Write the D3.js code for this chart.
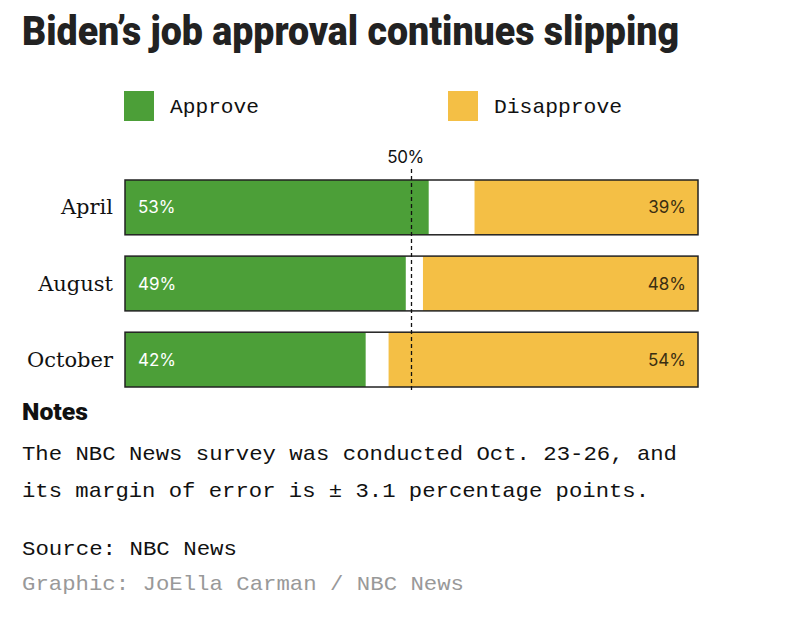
<!DOCTYPE html>
<html>
<head>
<meta charset="utf-8">
<script src="https://cdn.jsdelivr.net/npm/d3@7"></script>
<style>
  body { margin: 0; background: #fff; }
  svg { display: block; }
</style>
</head>
<body>
<div id="chart"></div>
<script>
// data
let months = ['April', 'August', 'October'];
let approve = [53, 49, 42];
let disapprove = [39, 48, 54];
let seriesNames = ['Approve', 'Disapprove'];
let refLine = 50;

let colors = {approve: '#4c9f38', disapprove: '#f4bf45'};

let width = 808, height = 620;

let svg = d3.select('#chart').append('svg')
    .attr('width', width)
    .attr('height', height);

// title
svg.append('text')
    .attr('x', 22)
    .attr('y', 45)
    .attr('textLength', 657)
    .attr('lengthAdjust', 'spacingAndGlyphs')
    .style('font-family', 'Roboto, "Liberation Sans", sans-serif')
    .style('font-weight', 900)
    .style('font-size', '41px')
    .style('fill', '#222')
    .text('Biden\u2019s job approval continues slipping');

// legend
let legendX = [124, 448];
let legendLen = [89, 128];
let legend = svg.selectAll('.legend')
    .data(seriesNames)
    .enter().append('g')
    .attr('class', 'legend')
    .attr('transform', (d, i) => `translate(${legendX[i]}, 91)`);

legend.append('rect')
    .attr('width', 30)
    .attr('height', 30)
    .attr('fill', (d, i) => i === 0 ? colors.approve : colors.disapprove);

legend.append('text')
    .attr('x', 46)
    .attr('y', 22)
    .attr('textLength', (d, i) => legendLen[i])
    .attr('lengthAdjust', 'spacingAndGlyphs')
    .style('font-family', '"Liberation Mono", "DejaVu Sans Mono", monospace')
    .style('font-size', '21px')
    .style('fill', '#111')
    .text(d => d);

// scales
let x = d3.scaleLinear().domain([0, 100]).range([125, 698]);
let y = d3.scaleBand().domain(months).range([180, 387]).paddingInner(0.28).paddingOuter(0);

let rows = svg.selectAll('.row')
    .data(months)
    .enter().append('g')
    .attr('class', 'row');

// white base
rows.append('rect')
    .attr('x', x(0))
    .attr('y', d => y(d))
    .attr('width', x(100) - x(0))
    .attr('height', y.bandwidth())
    .attr('fill', '#fff');

rows.append('rect')
    .attr('x', x(0))
    .attr('y', d => y(d))
    .attr('width', (d, i) => x(approve[i]) - x(0))
    .attr('height', y.bandwidth())
    .attr('fill', colors.approve);

rows.append('rect')
    .attr('x', (d, i) => x(100 - disapprove[i]))
    .attr('y', d => y(d))
    .attr('width', (d, i) => x(100) - x(100 - disapprove[i]))
    .attr('height', y.bandwidth())
    .attr('fill', colors.disapprove);

// border
rows.append('rect')
    .attr('x', x(0))
    .attr('y', d => y(d))
    .attr('width', x(100) - x(0))
    .attr('height', y.bandwidth())
    .attr('fill', 'none')
    .attr('stroke', '#222')
    .attr('stroke-width', 1.5);

// month labels
rows.append('text')
    .attr('x', 113)
    .attr('y', d => y(d) + y.bandwidth() / 2 + 7)
    .attr('text-anchor', 'end')
    .style('font-family', '"DejaVu Serif", "Liberation Serif", serif')
    .style('font-size', '21px')
    .style('fill', '#111')
    .text(d => d);

// value labels
rows.append('text')
    .attr('x', x(0) + 13)
    .attr('y', d => y(d) + y.bandwidth() / 2 + 6)
    .style('font-family', 'Inter, "Noto Sans", sans-serif')
    .style('font-size', '17px')
    .style('fill', '#fff')
    .text((d, i) => approve[i] + '%');

rows.append('text')
    .attr('x', x(100) - 12)
    .attr('y', d => y(d) + y.bandwidth() / 2 + 6)
    .attr('text-anchor', 'end')
    .style('font-family', 'Inter, "Noto Sans", sans-serif')
    .style('font-size', '17px')
    .style('fill', '#3a2e12')
    .text((d, i) => disapprove[i] + '%');

// 50% reference line
svg.append('line')
    .attr('x1', x(refLine))
    .attr('x2', x(refLine))
    .attr('y1', 169)
    .attr('y2', 391)
    .attr('stroke', '#111')
    .attr('stroke-width', 1.3)
    .attr('stroke-dasharray', '4,3');

svg.append('text')
    .attr('x', x(refLine) - 6)
    .attr('y', 163)
    .attr('text-anchor', 'middle')
    .style('font-family', 'Inter, "Noto Sans", sans-serif')
    .style('font-size', '17px')
    .style('letter-spacing', '-0.5px')
    .style('fill', '#111')
    .text(refLine + '%');

// notes
svg.append('text')
    .attr('x', 22)
    .attr('y', 420)
    .attr('textLength', 66)
    .attr('lengthAdjust', 'spacingAndGlyphs')
    .style('font-family', 'Roboto, "Liberation Sans", sans-serif')
    .style('font-weight', 900)
    .style('font-size', '24px')
    .style('fill', '#111')
    .text('Notes');

let noteLines = [
    {text: 'The NBC News survey was conducted Oct. 23-26, and', y: 460, len: 655, color: '#111'},
    {text: 'its margin of error is \u00b1 3.1 percentage points.', y: 497, len: 627, color: '#111'},
    {text: 'Source: NBC News', y: 555, len: 215, color: '#111'},
    {text: 'Graphic: JoElla Carman / NBC News', y: 590, len: 442, color: '#999'}
];

svg.selectAll('.note')
    .data(noteLines)
    .enter().append('text')
    .attr('class', 'note')
    .attr('x', 22)
    .attr('y', d => d.y)
    .attr('textLength', d => d.len)
    .attr('lengthAdjust', 'spacingAndGlyphs')
    .style('font-family', '"Liberation Mono", "DejaVu Sans Mono", monospace')
    .style('font-size', '21px')
    .style('fill', d => d.color)
    .text(d => d.text);
</script>
</body>
</html>
